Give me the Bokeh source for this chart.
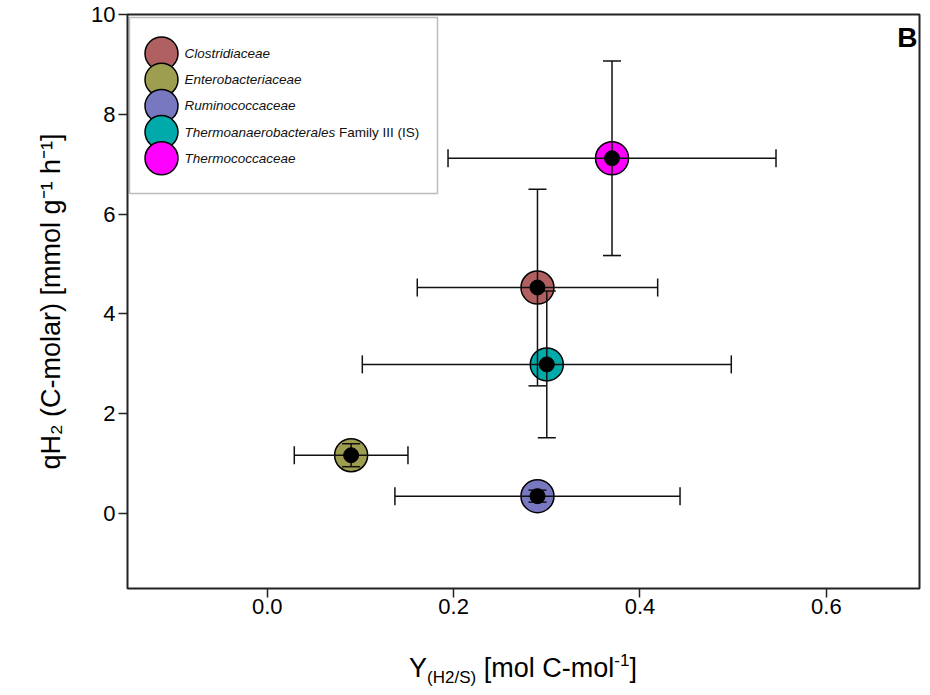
import numpy as np
from bokeh.plotting import figure
from bokeh.layouts import column
from bokeh.models import (Range1d, FixedTicker, NumeralTickFormatter, Label, BoxAnnotation,
                          ColumnDataSource, Div)
from bokeh.core.properties import value
from bokeh.embed import file_html
from bokeh.resources import INLINE

# ---------------- data ----------------
families = ["Clostridiaceae", "Enterobacteriaceae", "Ruminococcaceae",
            "Thermoanaerobacterales Family III (IS)", "Thermococcaceae"]
colors = ["#B06060", "#9E9E50", "#7878C0", "#00AAAA", "#FF00FF"]
yield_h2 = [0.29, 0.09, 0.29, 0.30, 0.37]        # Y(H2/S) [mol C-mol-1]
yield_err = [0.129, 0.061, 0.153, 0.198, 0.176]
q_h2 = [4.53, 1.17, 0.35, 2.99, 7.12]             # qH2 [mmol g-1 h-1]
q_err = [1.97, 0.23, 0.12, 1.47, 1.95]
x_ticks = [0.0, 0.2, 0.4, 0.6]
y_ticks = [0, 2, 4, 6, 8, 10]

# ---------------- layout ----------------
W, H = 930, 695
PH = 640                      # figure height; x-axis title goes in a Div below
FL, FR, FT, FB = 127, 919, 14, 588
X0, X1, Y0, Y1 = -0.15, 0.7, -1.5, 10.0
FONT = "Liberation Sans"


def px2x(px):
    return X0 + (px - FL) / (FR - FL) * (X1 - X0)


def px2y(py):
    return Y1 - (py - FT) / (FB - FT) * (Y1 - Y0)


p = figure(width=W, height=PH, x_range=Range1d(X0, X1), y_range=Range1d(Y0, Y1),
           output_backend="svg", toolbar_location=None,
           min_border_left=FL, min_border_right=W - FR,
           min_border_top=FT, min_border_bottom=PH - FB)
p.grid.visible = False
p.background_fill_color = "white"
p.border_fill_color = "white"
p.outline_line_color = "#222222"
p.outline_line_width = 2

for ax in (p.xaxis[0], p.yaxis[0]):
    ax.axis_line_color = None
    ax.major_tick_line_color = "#222222"
    ax.major_tick_line_width = 1.5
    ax.major_tick_out = 9
    ax.major_tick_in = 0
    ax.minor_tick_line_color = None
    ax.major_label_text_font = FONT
    ax.major_label_text_font_size = "22px"
    ax.major_label_text_color = "black"
p.xaxis.major_label_standoff = 1
p.yaxis.major_label_standoff = 3

p.xaxis.ticker = FixedTicker(ticks=x_ticks)
p.xaxis.formatter = NumeralTickFormatter(format="0.0")
p.yaxis.ticker = FixedTicker(ticks=y_ticks)
p.yaxis.axis_label = "qH\u2082 (C-molar) [mmol g\u207b\u00b9 h\u207b\u00b9]"
p.yaxis.axis_label_text_font = FONT
p.yaxis.axis_label_text_font_style = "normal"
p.yaxis.axis_label_text_font_size = "27px"
p.yaxis.axis_label_text_color = "black"
p.yaxis.axis_label_standoff = 22

# ---------------- data marks ----------------
x = np.array(yield_h2)
y = np.array(q_h2)
xe = np.array(yield_err)
ye = np.array(q_err)
src = ColumnDataSource(dict(x=x, y=y, xl=x - xe, xr=x + xe, yl=y - ye, yu=y + ye,
                            color=colors, name=families))

p.scatter("x", "y", size=33, fill_color="color", line_color="black", line_width=1.5, source=src)
p.segment("xl", "y", "xr", "y", line_color="#111111", line_width=1.5, source=src)
p.segment("x", "yl", "x", "yu", line_color="#111111", line_width=1.5, source=src)
for cx, cy, ang in (("xl", "y", np.pi / 2), ("xr", "y", np.pi / 2), ("x", "yl", 0.0), ("x", "yu", 0.0)):
    p.scatter(cx, cy, marker="dash", angle=ang, size=18, line_color="#111111",
              line_width=1.5, source=src)
p.scatter("x", "y", size=15, fill_color="black", line_color="black", source=src)

# ---------------- legend (drawn by hand) ----------------
p.add_layout(BoxAnnotation(left=px2x(129), right=px2x(437), top=px2y(17), bottom=px2y(193),
                           fill_color="white", fill_alpha=1.0, line_color="#222222",
                           line_width=1.5, level="underlay"))
row_px = [53 + 26.2 * i for i in range(len(families))]
row_y = [px2y(r) for r in row_px]
p.scatter([px2x(161)] * len(families), row_y, size=33, fill_color=colors,
          line_color="black", line_width=1.5)
LEG_FS = 13.5
italic_part = [f.split(" ", 1)[0] for f in families]
plain_part = [f.split(" ", 1)[1] if " " in f else "" for f in families]
p.text([px2x(184)] * len(families), row_y, text=italic_part, text_font=value(FONT),
       text_font_style="italic", text_font_size=f"{LEG_FS}px", text_baseline="middle",
       text_color="#111111")

AW = {"T": 611, "h": 556, "e": 556, "r": 333, "m": 833, "o": 556, "a": 556, "n": 556,
      "b": 556, "c": 500, "t": 278, "l": 222, "s": 500, " ": 278}
for i, (it, pl) in enumerate(zip(italic_part, plain_part)):
    if pl:
        wpx = sum(AW.get(ch, 556) for ch in it) / 1000 * LEG_FS
        p.text([px2x(184 + wpx + 0.278 * LEG_FS)], [row_y[i]], text=[pl], text_font=value(FONT),
               text_font_size=f"{LEG_FS}px", text_baseline="middle", text_color="#111111")

# ---------------- panel letter ----------------
p.add_layout(Label(x=px2x(917), y=px2y(37), text="B", text_font=FONT,
                   text_font_style="bold", text_font_size="28px", text_align="right",
                   text_baseline="alphabetic", text_color="black"))

# ---------------- x axis title (with sub/superscripts) ----------------
xtitle = Div(
    text='Y<sub style="font-size:17px;vertical-align:-6px">(H2/S)</sub> [mol C-mol'
         '<sup style="font-size:17px;vertical-align:11px">-1</sup>]',
    width=FR - FL, height=H - PH - 5, margin=(5, 0, 0, FL),
    styles={"font-family": FONT, "font-size": "27px", "text-align": "center",
            "color": "black", "line-height": "31px", "white-space": "nowrap"})

layout = column(p, xtitle, spacing=0)
open("out.html", "w").write(file_html(layout, INLINE))
